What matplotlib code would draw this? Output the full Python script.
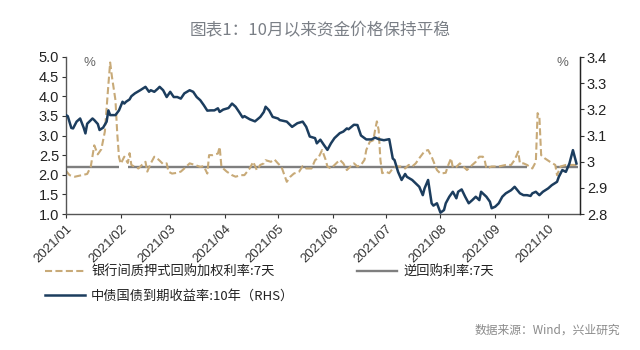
import matplotlib
matplotlib.use("Agg")
import matplotlib.pyplot as plt
import matplotlib.dates as mdates
from matplotlib.ticker import FixedLocator, FuncFormatter
from matplotlib.lines import Line2D
import pandas as pd
import numpy as np

plt.rcParams['font.family'] = ['Noto Sans CJK SC', 'DejaVu Sans']

# ---------------- data ----------------
title = "图表1：10月以来资金价格保持平稳"
source = "数据来源：Wind，兴业研究"
label_repo7d = "银行间质押式回购加权利率:7天"
label_rr7d = "逆回购利率:7天"
label_cgb10y = "中债国债到期收益率:10年（RHS）"

# 10Y CGB yield (RHS)
cgb_dates = [
    "01-01", "01-02", "01-04", "01-05", "01-07", "01-09", "01-11", "01-12", "01-13", "01-16",
    "01-17", "01-19", "01-20", "01-22", "01-24", "01-25", "01-26", "01-29", "01-31", "02-02",
    "02-03", "02-04", "02-06", "02-07", "02-09", "02-12", "02-15", "02-17", "02-18", "02-20",
    "02-22", "02-23", "02-25", "02-27", "03-01", "03-03", "03-05", "03-07", "03-09", "03-12",
    "03-14", "03-16", "03-18", "03-20", "03-22", "03-24", "03-26", "03-28", "03-29", "03-31",
    "04-03", "04-05", "04-07", "04-09", "04-11", "04-12", "04-15", "04-18", "04-21", "04-23",
    "04-24", "04-26", "04-28", "05-01", "05-02", "05-06", "05-09", "05-12", "05-15", "05-17",
    "05-19", "05-22", "05-23", "05-25", "05-27", "05-29", "05-31", "06-02", "06-05", "06-07",
    "06-09", "06-10", "06-13", "06-15", "06-17", "06-20", "06-23", "06-25", "06-27", "06-30",
    "07-03", "07-05", "07-06", "07-08", "07-10", "07-12", "07-13", "07-16", "07-18", "07-20",
    "07-22", "07-23", "07-25", "07-27", "07-28", "07-30", "08-01", "08-03", "08-04", "08-06",
    "08-08", "08-10", "08-11", "08-13", "08-15", "08-17", "08-19", "08-21", "08-23", "08-24",
    "08-27", "08-29", "08-30", "09-01", "09-03", "09-05", "09-07", "09-10", "09-12", "09-15",
    "09-17", "09-19", "09-21", "09-22", "09-24", "09-26", "09-28", "10-01", "10-03", "10-06",
    "10-07", "10-09", "10-11", "10-13", "10-15", "10-16", "10-17",
]
cgb_values = [
    3.178, 3.174, 3.129, 3.127, 3.153, 3.165, 3.130, 3.108, 3.145, 3.165,
    3.159, 3.144, 3.121, 3.130, 3.153, 3.196, 3.178, 3.178, 3.196, 3.229,
    3.222, 3.229, 3.238, 3.250, 3.261, 3.273, 3.286, 3.267, 3.273, 3.267,
    3.279, 3.286, 3.273, 3.247, 3.267, 3.247, 3.247, 3.241, 3.261, 3.273,
    3.267, 3.247, 3.235, 3.216, 3.195, 3.196, 3.196, 3.204, 3.190, 3.199,
    3.205, 3.222, 3.210, 3.190, 3.169, 3.174, 3.162, 3.154, 3.171, 3.190,
    3.210, 3.196, 3.171, 3.165, 3.159, 3.153, 3.133, 3.147, 3.153, 3.133,
    3.096, 3.090, 3.070, 3.084, 3.064, 3.045, 3.070, 3.090, 3.109, 3.115,
    3.127, 3.124, 3.141, 3.140, 3.100, 3.085, 3.085, 3.092, 3.086, 3.082,
    3.086, 3.012, 3.006, 2.961, 2.930, 2.953, 2.942, 2.930, 2.917, 2.904,
    2.872, 2.898, 2.930, 2.841, 2.832, 2.841, 2.805, 2.815, 2.841, 2.866,
    2.885, 2.860, 2.885, 2.894, 2.866, 2.841, 2.853, 2.866, 2.853, 2.885,
    2.866, 2.847, 2.822, 2.828, 2.841, 2.866, 2.879, 2.891, 2.904, 2.879,
    2.872, 2.872, 2.869, 2.879, 2.885, 2.872, 2.885, 2.898, 2.910, 2.923,
    2.942, 2.968, 2.961, 2.993, 3.044, 3.019, 2.993,
]

# Interbank pledged repo weighted rate 7D (LHS)
repo_dates = [
    "01-01", "01-03", "01-06", "01-10", "01-13", "01-15", "01-17", "01-19", "01-21", "01-23",
    "01-25", "01-26", "01-27", "01-29", "01-30", "01-31", "02-01", "02-03", "02-05", "02-06",
    "02-07", "02-09", "02-11", "02-13", "02-15", "02-16", "02-18", "02-20", "02-22", "02-23",
    "02-25", "02-27", "02-28", "03-02", "03-05", "03-07", "03-09", "03-12", "03-15", "03-18",
    "03-20", "03-22", "03-23", "03-25", "03-28", "03-29", "03-30", "04-02", "04-05", "04-07",
    "04-10", "04-12", "04-15", "04-17", "04-19", "04-21", "04-23", "04-24", "04-27", "04-29",
    "05-01", "05-03", "05-06", "05-08", "05-10", "05-13", "05-15", "05-17", "05-20", "05-22",
    "05-24", "05-26", "05-28", "05-29", "05-31", "06-03", "06-05", "06-07", "06-09", "06-11",
    "06-13", "06-15", "06-17", "06-19", "06-20", "06-22", "06-24", "06-25", "06-26", "06-27",
    "06-28", "06-29", "07-01", "07-03", "07-05", "07-07", "07-10", "07-12", "07-14", "07-16",
    "07-18", "07-20", "07-23", "07-25", "07-27", "07-30", "08-01", "08-04", "08-05", "08-07",
    "08-08", "08-10", "08-12", "08-14", "08-16", "08-19", "08-21", "08-23", "08-25", "08-26",
    "08-27", "08-30", "09-03", "09-07", "09-10", "09-12", "09-14", "09-15", "09-17", "09-19",
    "09-22", "09-24", "09-25", "09-26", "09-27", "09-29", "10-02", "10-05", "10-06", "10-08",
    "10-11", "10-14", "10-17",
]
repo_values = [
    2.10, 1.99, 1.95, 1.99, 2.02, 2.20, 2.75, 2.52, 2.65, 3.10,
    4.30, 4.86, 4.50, 3.90, 3.06, 2.45, 2.28, 2.46, 2.30, 2.55,
    2.25, 2.20, 2.16, 2.25, 2.33, 2.08, 2.29, 2.46, 2.40, 2.36,
    2.27, 2.29, 2.08, 2.03, 2.05, 2.08, 2.16, 2.29, 2.25, 2.20,
    2.22, 2.03, 2.50, 2.50, 2.54, 2.71, 2.20, 2.08, 1.99, 1.95,
    1.99, 1.99, 2.16, 2.33, 2.12, 2.25, 2.29, 2.37, 2.33, 2.39,
    2.29, 2.20, 1.82, 1.95, 2.03, 2.08, 2.22, 2.16, 2.16, 2.37,
    2.44, 2.63, 2.38, 2.21, 2.16, 2.29, 2.38, 2.29, 2.12, 2.21,
    2.29, 2.21, 2.25, 2.38, 2.63, 2.84, 2.88, 3.14, 3.36, 3.14,
    2.38, 2.04, 2.08, 2.04, 2.16, 2.21, 2.21, 2.16, 2.25, 2.21,
    2.29, 2.42, 2.60, 2.63, 2.46, 2.12, 2.03, 2.05, 2.20, 2.42,
    2.18, 2.20, 2.29, 2.21, 2.12, 2.25, 2.33, 2.46, 2.46, 2.38,
    2.16, 2.21, 2.21, 2.25, 2.25, 2.38, 2.59, 2.29, 2.29, 2.25,
    2.16, 2.33, 3.57, 3.48, 2.50, 2.42, 2.33, 2.25, 1.99, 2.21,
    2.25, 2.25, 2.25,
]

# Reverse repo rate 7D (LHS), gaps where no operation
rr_dates = ["01-01", "01-31", "02-02", "02-05", "09-19", "09-25", "10-05", "10-18"]
rr_values = [2.2, 2.2, np.nan, 2.2, 2.2, np.nan, 2.2, 2.2]

year = "2021"
left_ticks = [1.0, 1.5, 2.0, 2.5, 3.0, 3.5, 4.0, 4.5, 5.0]
right_ticks = [2.8, 2.9, 3.0, 3.1, 3.2, 3.3, 3.4]
month_ticks = ["01", "02", "03", "04", "05", "06", "07", "08", "09", "10"]

# ---------------- plotting ----------------
to_dt = lambda lst: pd.to_datetime([f"{year}-{d}" for d in lst])

c_tan = "#c8aa78"
c_grey = "#7f7f7f"
c_blue = "#1c3d5e"
c_text = "#222222"
num_font = "Liberation Sans"
dash = (0, (3.4, 1.6))

fig = plt.figure(figsize=(6.4, 3.5), dpi=100)
ax = fig.add_axes([66/640, 1-214/350, (580-66)/640, 157/350])
ax2 = ax.twinx()

ax.plot(to_dt(rr_dates), rr_values, color=c_grey, lw=1.7, solid_capstyle='butt')
ax.plot(to_dt(repo_dates), repo_values, color=c_tan, lw=1.5, linestyle=dash)
ax2.plot(to_dt(cgb_dates), cgb_values, color=c_blue, lw=1.8)

ax.set_xlim(pd.Timestamp(f"{year}-01-01"), pd.Timestamp(f"{year}-10-19"))
ax.set_ylim(left_ticks[0], left_ticks[-1])
ax2.set_ylim(right_ticks[0], right_ticks[-1])

ax.yaxis.set_major_locator(FixedLocator(left_ticks))
ax.yaxis.set_major_formatter(FuncFormatter(lambda v, p: f"{v:.1f}"))
ax2.yaxis.set_major_locator(FixedLocator(right_ticks))
ax2.yaxis.set_major_formatter(FuncFormatter(lambda v, p: f"{v:g}"))

xt = pd.to_datetime([f"{year}-{m}-01" for m in month_ticks])
ax.set_xticks(xt)
ax.set_xticklabels([f"{year}/{m}" for m in month_ticks], rotation=45, ha='right',
                   rotation_mode='anchor', fontsize=9.5, family=num_font, color=c_text)

for a in (ax, ax2):
    a.spines['top'].set_visible(False)
    a.tick_params(direction='out', length=3, width=0.8, colors='#333333')
ax2.spines['left'].set_visible(False)
ax2.spines['bottom'].set_visible(False)
for s in ('left', 'bottom'):
    ax.spines[s].set_color('#555555')
    ax.spines[s].set_linewidth(1.0)
ax2.spines['right'].set_color('#222222')
ax2.spines['right'].set_linewidth(1.0)

for lbl in ax.get_yticklabels() + ax2.get_yticklabels():
    lbl.set_family(num_font)
    lbl.set_fontsize(10.5)
    lbl.set_color(c_text)
ax.tick_params(axis='y', pad=2)
ax2.tick_params(axis='y', pad=2)
ax.tick_params(axis='x', pad=3)

ax.text(0.045, 0.96, "%", transform=ax.transAxes, ha='center', va='center',
        fontsize=9.5, color='#666666', family=num_font)
ax2.text(0.965, 0.96, "%", transform=ax2.transAxes, ha='center', va='center',
         fontsize=9.5, color='#666666', family=num_font)

fig.text(0.5, 1-31/350, title, ha='center', va='center', fontsize=12, color='#7a7f86')

h1 = Line2D([], [], color=c_tan, lw=1.5, linestyle=dash)
h2 = Line2D([], [], color=c_grey, lw=1.7)
h3 = Line2D([], [], color=c_blue, lw=1.8)
leg1 = fig.legend([h1, h3], [label_repo7d, label_cgb10y], loc='upper left',
                  bbox_to_anchor=(45/640, 1-266/350), frameon=False, fontsize=9.5,
                  handlelength=3.0, handletextpad=0.5, labelspacing=0.8, borderpad=0,
                  borderaxespad=0)
leg2 = fig.legend([h2], [label_rr7d], loc='upper left',
                  bbox_to_anchor=(357/640, 1-266/350), frameon=False, fontsize=9.5,
                  handlelength=3.0, handletextpad=0.5, borderpad=0, borderaxespad=0)
for lg in (leg1, leg2):
    for t in lg.get_texts():
        t.set_color(c_text)

fig.text(620/640, 1-330/350, source, ha='right', va='center', fontsize=8.5, color='#8a8a8a')

fig.savefig("out.png", dpi=100)
